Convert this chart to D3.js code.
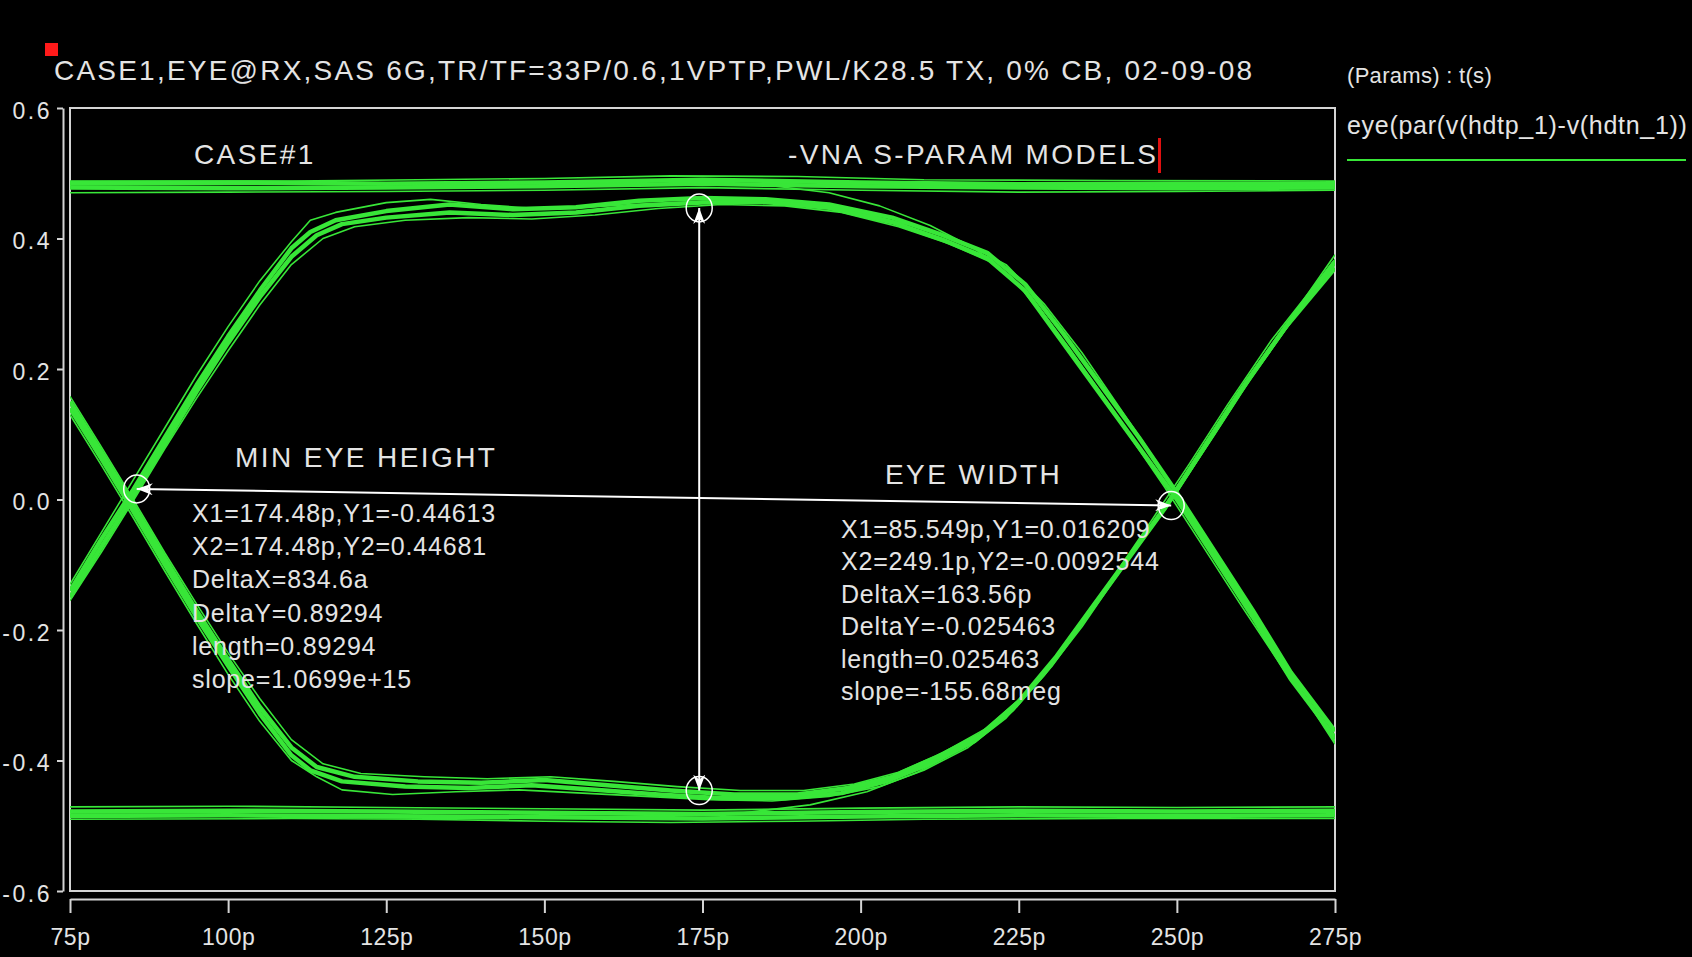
<!DOCTYPE html>
<html><head><meta charset="utf-8">
<script src="https://cdn.jsdelivr.net/npm/d3@7"></script>
<style>
html,body{margin:0;padding:0;background:#000;}
svg{display:block;}
text{font-family:"Liberation Sans",Arial,Helvetica,sans-serif;fill:#e4e4e4;}
</style></head><body>
<svg id="chart" width="1692" height="957"></svg>
<script>
// ---------- data ----------
const xTicks = [75, 100, 125, 150, 175, 200, 225, 250, 275];
const xTickLabels = ["75p", "100p", "125p", "150p", "175p", "200p", "225p", "250p", "275p"];
const yTicks = [-0.6, -0.4, -0.2, 0, 0.2, 0.4, 0.6];
const yTickLabels = ["-0.6", "-0.4", "-0.2", "0.0", "0.2", "0.4", "0.6"];
const titleText = "CASE1,EYE@RX,SAS 6G,TR/TF=33P/0.6,1VPTP,PWL/K28.5 TX, 0% CB, 02-09-08";
const legendHeader = "(Params) : t(s)";
const seriesName = "eye(par(v(hdtp_1)-v(hdtn_1))";
const noteLeft = "CASE#1";
const noteRight = "-VNA S-PARAM MODELS";
const heightLabel = "MIN EYE HEIGHT";
const widthLabel = "EYE WIDTH";
const heightCursor = [[174.48, -0.44613], [174.48, 0.44681]];
const widthCursor = [[85.549, 0.016209], [249.1, -0.0092544]];
const heightReadout = ["X1=174.48p,Y1=-0.44613", "X2=174.48p,Y2=0.44681", "DeltaX=834.6a",
  "DeltaY=0.89294", "length=0.89294", "slope=1.0699e+15"];
const widthReadout = ["X1=85.549p,Y1=0.016209", "X2=249.1p,Y2=-0.0092544", "DeltaX=163.56p",
  "DeltaY=-0.025463", "length=0.025463", "slope=-155.68meg"];

// eye traces: [time (ps), voltage (V)]
const upperEye1 = [[75,-0.150],[80,-0.072],[85,0.005],[90,0.085],[95,0.165],[100,0.240],[105,0.310],[110,0.372],[114,0.405],[118,0.422],[125,0.432],[135,0.440],[145,0.436],[155,0.440],[165,0.450],[175,0.455],[185,0.456],[195,0.447],[205,0.425],[213,0.398],[220,0.370],[226,0.320],[232,0.240],[238,0.160],[244,0.080],[250,0.000],[256,-0.090],[262,-0.180],[268,-0.275],[275,-0.365]];
const upperEye2 = [[75,-0.140],[80,-0.060],[85,0.015],[90,0.095],[95,0.175],[100,0.250],[105,0.320],[110,0.385],[113,0.410],[117,0.428],[125,0.442],[135,0.452],[145,0.445],[155,0.448],[165,0.458],[175,0.462],[185,0.460],[195,0.452],[205,0.432],[213,0.405],[220,0.378],[226,0.330],[232,0.255],[238,0.175],[244,0.095],[250,0.010],[256,-0.080],[262,-0.170],[268,-0.265],[275,-0.355]];
const upperEye3 = [[75,-0.130],[80,-0.050],[85,0.030],[90,0.110],[95,0.190],[100,0.265],[105,0.335],[110,0.395],[113,0.428],[117,0.440],[125,0.455],[132,0.460],[140,0.452],[150,0.445],[160,0.450],[170,0.455],[180,0.458],[190,0.455],[200,0.440],[208,0.420],[216,0.395],[223,0.360],[229,0.300],[235,0.225],[241,0.140],[247,0.055],[253,-0.040],[259,-0.130],[265,-0.220],[270,-0.300],[275,-0.375]];
const upperEye4 = [[75,-0.155],[80,-0.080],[85,-0.002],[90,0.078],[95,0.155],[100,0.228],[105,0.298],[110,0.360],[115,0.400],[120,0.418],[128,0.428],[138,0.432],[148,0.430],[158,0.436],[168,0.446],[178,0.452],[188,0.450],[197,0.440],[206,0.418],[214,0.392],[221,0.362],[227,0.310],[233,0.232],[239,0.150],[245,0.068],[251,-0.015],[257,-0.105],[263,-0.195],[269,-0.285],[275,-0.372]];
const lowerEye1 = [[75,0.150],[80,0.072],[85,-0.008],[90,-0.090],[95,-0.170],[100,-0.245],[105,-0.318],[110,-0.380],[114,-0.410],[120,-0.425],[130,-0.432],[140,-0.434],[150,-0.430],[160,-0.438],[170,-0.446],[180,-0.452],[190,-0.452],[198,-0.442],[205,-0.425],[212,-0.395],[219,-0.360],[225,-0.310],[231,-0.240],[237,-0.160],[243,-0.080],[249,0.000],[255,0.090],[261,0.180],[268,0.275],[275,0.365]];
const lowerEye2 = [[75,0.140],[80,0.062],[85,-0.018],[90,-0.100],[95,-0.180],[100,-0.255],[105,-0.328],[110,-0.392],[113,-0.415],[118,-0.432],[128,-0.440],[138,-0.442],[148,-0.438],[158,-0.445],[168,-0.452],[178,-0.458],[188,-0.458],[197,-0.450],[204,-0.432],[211,-0.405],[218,-0.370],[224,-0.322],[230,-0.255],[236,-0.175],[242,-0.095],[248,-0.015],[254,0.075],[260,0.165],[267,0.262],[275,0.355]];
const lowerEye3 = [[75,0.130],[80,0.052],[85,-0.028],[90,-0.110],[95,-0.190],[100,-0.268],[105,-0.340],[110,-0.400],[114,-0.425],[118,-0.445],[126,-0.452],[136,-0.448],[146,-0.445],[156,-0.450],[166,-0.455],[176,-0.460],[186,-0.462],[195,-0.455],[203,-0.440],[210,-0.415],[217,-0.380],[223,-0.335],[229,-0.270],[235,-0.195],[241,-0.110],[247,-0.025],[253,0.065],[259,0.155],[266,0.250],[275,0.375]];
const lowerEye4 = [[75,0.158],[80,0.080],[85,0.000],[90,-0.082],[95,-0.160],[100,-0.235],[105,-0.305],[110,-0.368],[115,-0.405],[121,-0.420],[131,-0.425],[141,-0.428],[151,-0.425],[161,-0.432],[171,-0.440],[181,-0.446],[191,-0.446],[199,-0.436],[206,-0.418],[213,-0.388],[220,-0.350],[226,-0.298],[232,-0.228],[238,-0.148],[244,-0.068],[250,0.012],[256,0.100],[262,0.190],[269,0.285],[275,0.360]];
const highRail1 = [[75,0.485],[100,0.486],[125,0.484],[150,0.486],[175,0.490],[200,0.486],[225,0.483],[250,0.484],[275,0.483]];
const highRail2 = [[75,0.478],[100,0.477],[125,0.478],[150,0.480],[175,0.484],[200,0.480],[225,0.478],[250,0.477],[275,0.478]];
const highRail3 = [[75,0.470],[100,0.471],[125,0.472],[150,0.474],[175,0.478],[200,0.474],[225,0.471],[250,0.472],[275,0.474]];
const highRail4 = [[75,0.488],[110,0.488],[130,0.490],[150,0.492],[170,0.496],[190,0.495],[210,0.490],[240,0.489],[275,0.488]];
const lowRail1 = [[75,-0.485],[100,-0.484],[125,-0.486],[150,-0.487],[175,-0.489],[200,-0.486],[225,-0.484],[250,-0.485],[275,-0.484]];
const lowRail2 = [[75,-0.478],[100,-0.477],[125,-0.478],[150,-0.480],[175,-0.482],[200,-0.479],[225,-0.477],[250,-0.478],[275,-0.477]];
const lowRail3 = [[75,-0.471],[100,-0.470],[125,-0.472],[150,-0.474],[175,-0.476],[200,-0.473],[225,-0.471],[250,-0.472],[275,-0.471]];
const lowRail4 = [[75,-0.490],[110,-0.489],[130,-0.490],[150,-0.493],[170,-0.495],[190,-0.493],[210,-0.490],[240,-0.489],[275,-0.489]];
const highToLow = [[75,0.482],[120,0.483],[160,0.485],[185,0.482],[195,0.470],[203,0.450],[211,0.420],[218,0.385],[224,0.340],[230,0.268],[236,0.188],[242,0.105],[248,0.020],[254,-0.070],[260,-0.160],[267,-0.262],[275,-0.368]];
const lowToHigh = [[75,-0.482],[120,-0.483],[160,-0.486],[180,-0.482],[192,-0.468],[201,-0.448],[209,-0.418],[216,-0.382],[222,-0.340],[228,-0.278],[234,-0.200],[240,-0.118],[246,-0.032],[252,0.055],[258,0.145],[265,0.245],[275,0.368]];

const traces = [highRail3, highRail2, highRail4, highRail1, lowRail3, lowRail2, lowRail4, lowRail1,
  highToLow, lowToHigh, upperEye3, upperEye4, upperEye2, upperEye1, lowerEye3, lowerEye4, lowerEye2, lowerEye1];
const heavyTraces = new Set([highRail1, highRail2, lowRail1, lowRail2, upperEye1, upperEye2, lowerEye1, lowerEye2]);

// ---------- layout ----------
const W = 1692, H = 957;
const plot = {left: 70, right: 1335, top: 108, bottom: 891};
const svg = d3.select("#chart");
const GREEN = "#38e638", AXIS = "#d4d4d4";

const x = d3.scaleLinear().domain([75, 275]).range([plot.left, plot.right]);
const y = d3.scaleLinear().domain([-0.6, 0.6]).range([plot.bottom, plot.top]);

svg.append("rect").attr("width", W).attr("height", H).attr("fill", "#000");

svg.append("defs").html(`
  <clipPath id="clip"><rect x="${plot.left}" y="${plot.top}" width="${plot.right-plot.left}" height="${plot.bottom-plot.top}"/></clipPath>
  <marker id="arrow" viewBox="0 0 16 12" refX="16" refY="6" markerWidth="16" markerHeight="12" markerUnits="userSpaceOnUse" orient="auto-start-reverse">
    <path d="M0,0 L16,6 L0,12 L5,6 z" fill="#fff"/>
  </marker>`);

// frame
svg.append("rect")
  .attr("x", plot.left).attr("y", plot.top)
  .attr("width", plot.right - plot.left).attr("height", plot.bottom - plot.top)
  .attr("fill", "none").attr("stroke", AXIS).attr("stroke-width", 2);

// traces
const line = d3.line().x(d => x(d[0])).y(d => y(d[1]));
svg.append("g").attr("clip-path", "url(#clip)")
  .selectAll("path").data(traces).join("path")
  .attr("d", line)
  .attr("fill", "none")
  .attr("stroke", GREEN)
  .attr("stroke-width", d => heavyTraces.has(d) ? 4.5 : 1.6)
  .attr("stroke-linejoin", "round");

// cursors
const cur = svg.append("g");
[widthCursor, heightCursor].forEach(c => {
  cur.append("line")
    .attr("x1", x(c[0][0])).attr("y1", y(c[0][1]))
    .attr("x2", x(c[1][0])).attr("y2", y(c[1][1]))
    .attr("stroke", "#fff").attr("stroke-width", 2)
    .attr("marker-start", "url(#arrow)").attr("marker-end", "url(#arrow)");
  cur.selectAll(null).data(c).join("ellipse")
    .attr("cx", d => x(d[0])).attr("cy", d => y(d[1]))
    .attr("rx", 13).attr("ry", 14)
    .attr("fill", "none").attr("stroke", "#fff").attr("stroke-width", 1.5);
});

// axes
const yAxis = d3.axisLeft(y).tickValues(yTicks)
  .tickFormat((d, i) => yTickLabels[i]).tickSize(6).tickSizeOuter(0).tickPadding(5);
const gy = svg.append("g").attr("transform", "translate(63,0)").call(yAxis);
const xAxis = d3.axisBottom(x).tickValues(xTicks)
  .tickFormat((d, i) => xTickLabels[i]).tickSize(14).tickSizeOuter(0).tickPadding(16);
const gx = svg.append("g").attr("transform", "translate(0,899)").call(xAxis);
[gx, gy].forEach(g => {
  g.select(".domain").attr("stroke", AXIS).attr("stroke-width", 2);
  g.selectAll(".tick line").attr("stroke", AXIS).attr("stroke-width", 2);
  g.selectAll(".tick text").attr("fill", "#e4e4e4")
    .style("font-family", '"Liberation Sans", Arial, sans-serif')
    .style("font-size", "23px").style("letter-spacing", "0.5px");
});
gy.selectAll(".tick text").style("letter-spacing", "2.5px").attr("dy", "0.45em");

// title & marker
svg.append("rect").attr("x", 45).attr("y", 43).attr("width", 13).attr("height", 13).attr("fill", "#ff1a1a");
svg.append("text").attr("x", 54).attr("y", 80)
  .attr("textLength", 1198).attr("lengthAdjust", "spacing")
  .style("font-size", "28px").text(titleText);

// legend
svg.append("text").attr("x", 1347).attr("y", 83)
  .style("font-size", "22px").style("letter-spacing", "0.3px").text(legendHeader);
svg.append("text").attr("x", 1347).attr("y", 134)
  .style("font-size", "25px").style("letter-spacing", "0.7px").text(seriesName);
svg.append("line").attr("x1", 1347).attr("x2", 1686).attr("y1", 160).attr("y2", 160)
  .attr("stroke", GREEN).attr("stroke-width", 2);

// in-plot notes
const big = {size: "28px", ls: "2.4px"};
function label(tx, ty, s, size, ls) {
  svg.append("text").attr("x", tx).attr("y", ty)
    .style("font-size", size).style("letter-spacing", ls).text(s);
}
label(194, 164, noteLeft, big.size, big.ls);
label(788, 164, noteRight, big.size, big.ls);
svg.append("rect").attr("x", 1158).attr("y", 138).attr("width", 3).attr("height", 35).attr("fill", "#e01010");
label(235, 467, heightLabel, big.size, big.ls);
label(885, 484, widthLabel, big.size, big.ls);
heightReadout.forEach((s, i) => label(192, 522 + i * 33.2, s, "25px", "0.8px"));
widthReadout.forEach((s, i) => label(841, 538 + i * 32.4, s, "25px", "0.8px"));
</script>
</body></html>
